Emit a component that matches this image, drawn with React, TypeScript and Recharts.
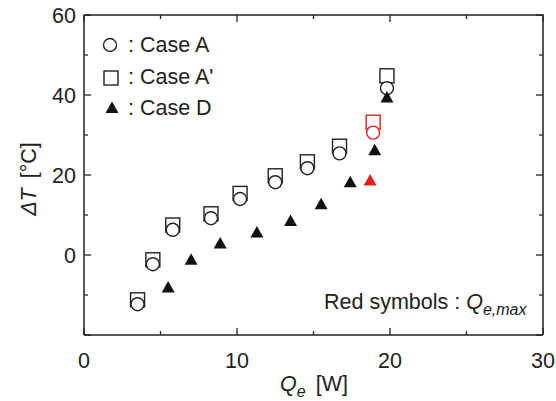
import React from 'react';
import { Scatter, ScatterChart, XAxis, YAxis } from 'recharts';

// Temperature difference vs. heat load for three cases. The Q_e,max point of each case is red.

const caseAQ = [3.5, 4.5, 5.8, 8.3, 10.2, 12.5, 14.6, 16.7, 18.9, 19.8];
const caseADT = [-12.3, -2.3, 6.3, 9.2, 14.0, 18.2, 21.7, 25.4, 30.6, 41.7];
const caseA2Q = [3.5, 4.5, 5.8, 8.3, 10.2, 12.5, 14.6, 16.7, 18.9, 19.8];
const caseA2DT = [-11.2, -1.2, 7.5, 10.3, 15.4, 19.8, 23.3, 27.2, 33.2, 44.8];
const caseDQ = [5.5, 7.0, 8.9, 11.3, 13.5, 15.5, 17.4, 18.7, 19.0, 19.8];
const caseDDT = [-8.1, -1.2, 2.9, 5.6, 8.5, 12.7, 18.2, 18.6, 26.2, 39.4];
const redIndexA = 8;
const redIndexA2 = 8;
const redIndexD = 7;

const xTicks = [0, 5, 10, 15, 20, 25, 30];
const yTicks = [-20, -10, 0, 10, 20, 30, 40, 50, 60];
const xLabelled = [0, 10, 20, 30];
const yLabelled = [0, 20, 40, 60];
const xMin = 0;
const xMax = 30;
const yMin = -20;
const yMax = 60;

const FONT = '"Liberation Sans", Arial, Helvetica, sans-serif';
const INK = '#222';
const RED = '#e3201c';
const FS = 21.5;

// chart layout
const W = 556;
const H = 401;
const MARGIN = { top: 15, right: 13, bottom: 0, left: 0 };
const Y_AXIS_W = 84;
const X_AXIS_H = 66;
const plotLeft = MARGIN.left + Y_AXIS_W;
const plotRight = W - MARGIN.right;
const plotTop = MARGIN.top;
const plotBottom = H - MARGIN.bottom - X_AXIS_H;

const toRows = (xs: number[], ys: number[], red: number) =>
  xs.map((x, i) => ({ x, y: ys[i], red: i === red }));

const rowsA = toRows(caseAQ, caseADT, redIndexA);
const rowsA2 = toRows(caseA2Q, caseA2DT, redIndexA2);
const rowsD = toRows(caseDQ, caseDDT, redIndexD);

const MAJOR = 7;
const MINOR = 4;

function makeTick(side: 'bottom' | 'left', majorStep: number, labels: number[]) {
  return (props: any) => {
    const { x, y, payload } = props;
    const v = payload.value as number;
    const len = v % majorStep === 0 ? MAJOR : MINOR;
    const show = labels.includes(v);
    return side === 'bottom' ? (
      <g stroke={INK} strokeWidth={1.3}>
        <line x1={x} x2={x} y1={y} y2={y - len} />
        {show && (
          <text x={x} y={y + 33} textAnchor="middle" fill={INK} stroke="none" fontSize={FS} fontFamily={FONT}>{v}</text>
        )}
      </g>
    ) : (
      <g stroke={INK} strokeWidth={1.3}>
        <line x1={x} x2={x + len} y1={y} y2={y} />
        {show && (
          <text x={x - 8} y={y + 7.5} textAnchor="end" fill={INK} stroke="none" fontSize={FS} fontFamily={FONT}>{v}</text>
        )}
      </g>
    );
  };
}

const circleShape = (p: any) => (
  <circle cx={p.cx} cy={p.cy} r={6.5} fill="#fff" stroke={p.payload.red ? RED : INK} strokeWidth={1.4} />
);
const squareShape = (p: any) => (
  <rect x={p.cx - 7} y={p.cy - 7} width={14} height={14} fill="#fff" stroke={p.payload.red ? RED : INK} strokeWidth={1.4} />
);
const triangleShape = (p: any) => (
  <path
    d={`M${p.cx},${p.cy - 6.5} L${p.cx + 6.5},${p.cy + 5} L${p.cx - 6.5},${p.cy + 5} Z`}
    fill={p.payload.red ? RED : '#111'}
  />
);

const axisLine = { stroke: INK, strokeWidth: 1.5 };

// top and right edges of the box with their inward ticks (mirrors the bottom/left axes)
function Frame() {
  const sx = (v: number) => plotLeft + ((v - xMin) / (xMax - xMin)) * (plotRight - plotLeft);
  const sy = (v: number) => plotBottom - ((v - yMin) / (yMax - yMin)) * (plotBottom - plotTop);
  return (
    <g stroke={INK} fill="none">
      <polyline
        points={`${plotLeft},${plotTop} ${plotRight},${plotTop} ${plotRight},${plotBottom}`}
        strokeWidth={1.5}
      />
      {xTicks.map((v) => (
        <line key={`t${v}`} x1={sx(v)} x2={sx(v)} y1={plotTop} y2={plotTop + (v % 10 === 0 ? MAJOR : MINOR)} strokeWidth={1.3} />
      ))}
      {yTicks.map((v) => (
        <line key={`r${v}`} x1={plotRight} x2={plotRight - (v % 20 === 0 ? MAJOR : MINOR)} y1={sy(v)} y2={sy(v)} strokeWidth={1.3} />
      ))}
    </g>
  );
}

function Texts() {
  return (
    <g fontFamily={FONT} fill={INK} fontSize={FS}>
      {/* legend */}
      <circle cx={110} cy={45} r={6.5} fill="none" stroke={INK} strokeWidth={1.4} />
      <text x={128} y={52}>: Case A</text>
      <rect x={104} y={71} width={14} height={14} fill="none" stroke={INK} strokeWidth={1.4} />
      <text x={128} y={84}>: Case A'</text>
      <path d="M112,101.5 L118.5,113 L105.5,113 Z" fill="#111" />
      <text x={128} y={115}>: Case D</text>

      <text x={324} y={309}>
        Red symbols : <tspan fontStyle="italic">Q</tspan>
        <tspan fontStyle="italic" fontSize={16} dy={6}>e,max</tspan>
      </text>

      <text x={314} y={391} textAnchor="middle">
        <tspan fontStyle="italic">Q</tspan>
        <tspan fontStyle="italic" fontSize={16} dy={6}>e</tspan>
        <tspan dy={-6} dx={10}>[W]</tspan>
      </text>

      <text transform="translate(36,179) rotate(-90)" textAnchor="middle">
        <tspan fontStyle="italic">ΔT</tspan>
        <tspan dx={10}>[°C]</tspan>
      </text>
    </g>
  );
}

export default function App() {
  return (
    <div style={{ position: 'absolute', left: 0, top: 0, width: W, height: H, background: '#fff' }}>
      <ScatterChart width={W} height={H} margin={MARGIN}>
        <XAxis
          type="number"
          dataKey="x"
          domain={[xMin, xMax]}
          ticks={xTicks}
          interval={0}
          height={X_AXIS_H}
          tickSize={0}
          tickMargin={0}
          tickLine={false}
          axisLine={axisLine}
          tick={makeTick('bottom', 10, xLabelled)}
        />
        <YAxis
          type="number"
          dataKey="y"
          domain={[yMin, yMax]}
          ticks={yTicks}
          interval={0}
          width={Y_AXIS_W}
          tickSize={0}
          tickMargin={0}
          tickLine={false}
          axisLine={axisLine}
          tick={makeTick('left', 20, yLabelled)}
        />
        <Scatter data={rowsA2} shape={squareShape} isAnimationActive={false} />
        <Scatter data={rowsA} shape={circleShape} isAnimationActive={false} />
        <Scatter data={rowsD} shape={triangleShape} isAnimationActive={false} />
        <Frame />
        <Texts />
      </ScatterChart>
    </div>
  );
}
